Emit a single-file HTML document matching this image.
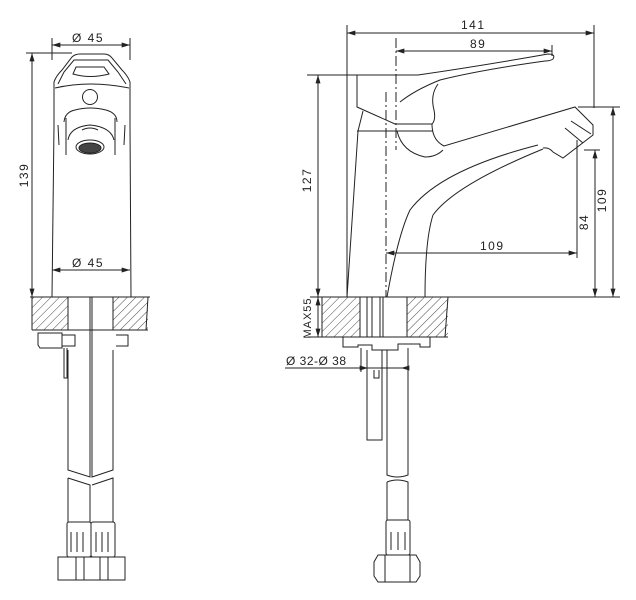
<!DOCTYPE html>
<html><head><meta charset="utf-8"><style>
html,body{margin:0;padding:0;background:#fff;}
svg{display:block;}
text{font-family:"Liberation Sans",sans-serif;font-size:12px;fill:#222;letter-spacing:1.5px;}
</style></head><body>
<svg width="636" height="600" viewBox="0 0 636 600" xmlns="http://www.w3.org/2000/svg">
<defs>
<pattern id="h" patternUnits="userSpaceOnUse" width="6" height="6" patternTransform="rotate(45)">
<line x1="0" y1="0" x2="0" y2="6" stroke="#333" stroke-width="0.9"/>
</pattern>
<marker id="a" viewBox="0 0 10 6" refX="10" refY="3" markerWidth="9" markerHeight="5" orient="auto-start-reverse">
<path d="M0,0 L10,3 L0,6 z" fill="#222"/>
</marker>
</defs>
<g fill="none" stroke="#222" stroke-width="1">
<!-- LEFT VIEW -->
<line x1="52" y1="38" x2="52" y2="60"/><line x1="130" y1="38" x2="130" y2="60"/>
<line x1="52" y1="45" x2="130" y2="45" marker-start="url(#a)" marker-end="url(#a)"/>
<line x1="26" y1="53" x2="72" y2="53"/>
<line x1="32" y1="53" x2="32" y2="297" marker-start="url(#a)" marker-end="url(#a)"/>
<path d="M54,125 L54,82 Q56,76 62,70 L72,57 Q75,54 80,54 L104,54 Q109,54 112,58 L122,70 Q128,76 130,82 L130,125"/>
<path d="M58,84 L64,72 L74,60 L108,60 L118,72 L126,84"/>
<path d="M73,74 L76,67 L104,67 L109,74 Q90,79 73,74 Z"/>
<path d="M55,88 Q90,80 129,88"/>
<circle cx="90" cy="97" r="7.5"/>
<path d="M64,122 Q65,112 75,110 Q90,106 106,110 Q117,113 117,122"/>
<path d="M68,140 Q70,127 90,125 Q111,127 114,140"/>
<path d="M66,118 L66,155 M115,118 L115,155"/>
<ellipse cx="90" cy="147" rx="14" ry="7"/>
<ellipse cx="90" cy="148" rx="11" ry="5" fill="#444"/>
<path d="M82,130 Q90,126 98,130"/>
<path d="M54,125 L52,297 M130,125 L131,297"/>
<path d="M58,125 L59,145 M125,125 L124,145"/>
<line x1="52" y1="270" x2="130" y2="270" marker-start="url(#a)" marker-end="url(#a)"/>
<line x1="30" y1="297" x2="150" y2="297"/>
<rect x="32" y="297" width="36" height="33" fill="url(#h)" stroke="none"/>
<rect x="113" y="297" width="35" height="33" fill="url(#h)" stroke="none"/>
<path d="M32,297 L32,330 M68,297 L68,330 M113,297 L113,330 M148,297 L146,330 M32,330 L148,330"/>
<path d="M38,333 L62,333 L62,348 L40,348 L38,345 Z"/>
<path d="M62,335 L75,335 L75,346 L62,346"/>
<path d="M116,335 L128,335 L128,346 L116,346"/>
<path d="M64,348 L64,378 L67,378 L67,348"/>
<path d="M68,350 L68,470 L90,477 L90,297 M92,297 L92,477 L113,470 L113,350"/>
<path d="M90,297 L92,297"/>
<path d="M68,478 L90,485 L90,522 M92,485 L113,478 L113,522 M68,478 L68,522"/>
<rect x="67" y="522" width="24" height="35" rx="2"/>
<rect x="91" y="522" width="24" height="35" rx="2"/>
<path d="M71,532 L71,552 M77,532 L77,552 M83,532 L83,552 M96,532 L96,552 M102,532 L102,552 M108,532 L108,552"/>
<path d="M58,557 L125,557 L125,580 L58,580 Z M76,557 L76,580 M84,557 L84,580 M100,557 L100,580 M108,557 L108,580"/>
<!-- RIGHT VIEW -->
<line x1="347" y1="25" x2="347" y2="297"/>
<line x1="594" y1="25" x2="594" y2="108"/>
<line x1="347" y1="33" x2="594" y2="33" marker-start="url(#a)" marker-end="url(#a)"/>
<line x1="396" y1="51" x2="552" y2="51" marker-start="url(#a)" marker-end="url(#a)"/>
<line x1="552" y1="45" x2="552" y2="56"/>
<line x1="307" y1="75" x2="362" y2="75"/>
<line x1="318" y1="75" x2="318" y2="297" marker-start="url(#a)" marker-end="url(#a)"/>
<line x1="318" y1="297" x2="318" y2="337" marker-start="url(#a)" marker-end="url(#a)"/>
<line x1="308" y1="337" x2="322" y2="337"/>
<line x1="310" y1="297" x2="620" y2="297"/>
<line x1="578" y1="107" x2="620" y2="107"/>
<line x1="613" y1="107" x2="613" y2="297" marker-start="url(#a)" marker-end="url(#a)"/>
<line x1="584" y1="150" x2="600" y2="150"/>
<line x1="595" y1="150" x2="595" y2="297" marker-start="url(#a)" marker-end="url(#a)"/>
<line x1="577" y1="140" x2="577" y2="258"/>
<line x1="386" y1="253" x2="577" y2="253" marker-start="url(#a)" marker-end="url(#a)"/>
<path d="M396,38 L396,150" stroke-dasharray="10,3,2,3"/>
<path d="M386,92 L386,297" stroke-dasharray="10,3,2,3"/>
<path d="M357,75 L418,75 Q480,66 548,54 Q556,54 553,59 Q550,61 545,61 Q480,70 440,80 Q415,90 400,102"/>
<path d="M438,84 Q430,95 434,110 Q436,120 432,124"/>
<path d="M357,75 L357,107 L395,124 L432,124"/>
<path d="M363,111 L358,131 L347,297"/>
<line x1="357" y1="131" x2="433" y2="131"/>
<path d="M397,131 Q402,152 425,157 Q436,157 443,150"/>
<path d="M432,124 Q432,140 444,146 L575,107 L593,125 L593,135 L563,158 L553,152 Q549,147 543,148"/>
<path d="M565,128 L583,143 M571,121 L591,134"/>
<path d="M538,145 Q440,170 410,210 Q398,235 387,297"/>
<path d="M543,149 Q455,185 433,215 Q425,240 425,297"/>
<rect x="322" y="297" width="38" height="40" fill="url(#h)" stroke="none"/>
<rect x="407" y="297" width="41" height="40" fill="url(#h)" stroke="none"/>
<path d="M322,297 L322,337 M360,297 L360,337 M407,297 L407,337 M448,297 L445,337 M322,337 L448,337"/>
<path d="M367,297 L367,337 M372,297 L372,337 M380,297 L380,337 M383,297 L383,337"/>
<path d="M343,337 L430,337 L430,347 L420,347 L420,344 L398,344 L398,350 L372,350 L372,345 L358,345 L358,347 L343,347 Z"/>
<line x1="285" y1="368" x2="408" y2="368"/>
<line x1="361" y1="368" x2="368" y2="368" marker-end="url(#a)"/>
<line x1="408" y1="368" x2="401" y2="368" marker-end="url(#a)"/>
<path d="M361,348 L361,372 M408,348 L408,372"/>
<path d="M367,350 L367,440 L382,440 L382,350 M374,370 L374,378 L379,378 L379,370"/>
<path d="M387,350 L387,475 Q397,479 408,475 L408,350"/>
<path d="M387,482 Q397,478 408,482 L408,520"/>
<path d="M387,482 L387,520"/>
<rect x="386" y="520" width="24" height="35" rx="2"/>
<path d="M391,532 L391,550 M398,532 L398,550 M405,532 L405,550"/>
<path d="M378,555 L416,555 L420,562 L420,576 L416,582 L378,582 L374,576 L374,562 Z M385,555 L385,582 M410,555 L410,582"/>
</g>
<g>
<text x="72" y="42">Ø 45</text>
<text x="72" y="267">Ø 45</text>
<text transform="translate(31,175) rotate(-90)" text-anchor="middle" y="-3">139</text>
<text x="461" y="29">141</text>
<text x="470" y="48">89</text>
<text x="480" y="250">109</text>
<text transform="translate(314,180) rotate(-90)" text-anchor="middle" y="-3">127</text>
<text transform="translate(314,318) rotate(-90)" text-anchor="middle" y="-3" style="font-size:11px;letter-spacing:1px">MAX55</text>
<text transform="translate(591,222) rotate(-90)" text-anchor="middle" y="-3">84</text>
<text transform="translate(609,200) rotate(-90)" text-anchor="middle" y="-3">109</text>
<text x="286" y="365" style="letter-spacing:0.5px">Ø 32-Ø 38</text>
</g>
</svg>
</body></html>
